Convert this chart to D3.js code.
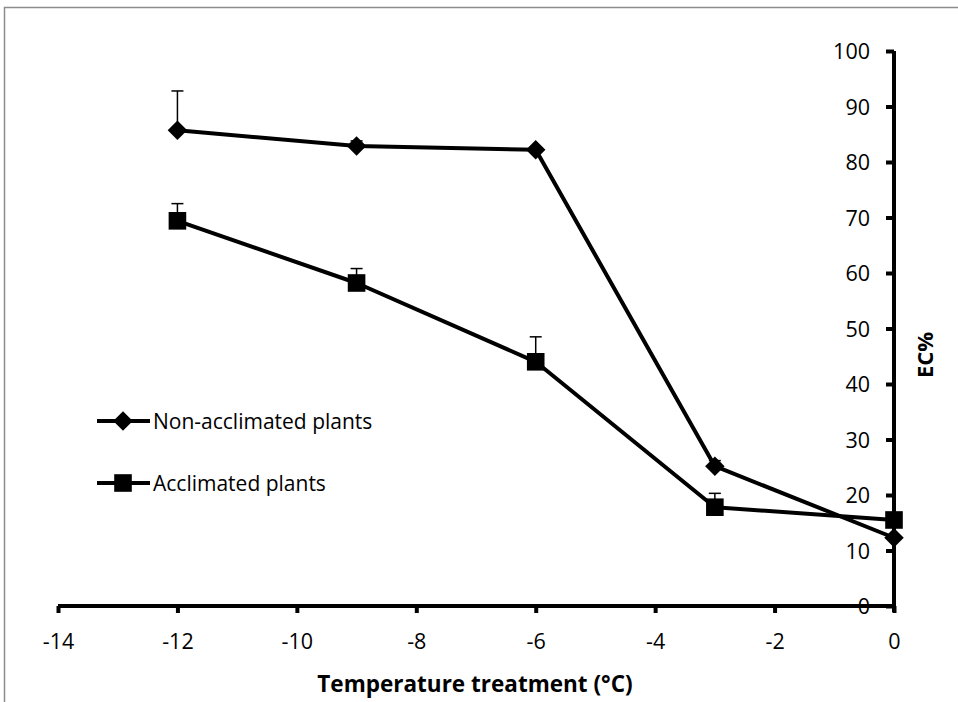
<!DOCTYPE html>
<html>
<head>
<meta charset="utf-8">
<script src="https://cdn.jsdelivr.net/npm/d3@7"></script>
<style>
  body { margin: 0; background: #fff; }
  svg { display: block; font-family: "Open Sans", Lato, sans-serif; }
</style>
</head>
<body>
<div id="chart-area"></div>
<script>
// Data
const temps = [-12, -9, -6, -3, 0]
const nonAcclimated = [85.7, 82.9, 82.2, 25.2, 12.3]
const nonAcclimatedErr = [7.1, 0.9, 0.4, 1.0, 0.3]
const acclimated = [69.4, 58.2, 44.0, 17.8, 15.5]
const acclimatedErr = [3.1, 2.6, 4.5, 2.5, 0.3]
const xTicks = [-14, -12, -10, -8, -6, -4, -2, 0]
const yTicks = [0, 10, 20, 30, 40, 50, 60, 70, 80, 90, 100]

const W = 958, H = 702
const MARGINS = { TOP: 51, LEFT: 58 }
const PLOT_W = 894 - 58
const PLOT_H = 606 - 51

const svg = d3.select("#chart-area").append("svg")
	.attr("width", W)
	.attr("height", H)

// chart frame (runs off the right and bottom edge)
svg.append("path")
	.attr("d", `M4.5,${H} V7.5 H${W}`)
	.attr("fill", "none")
	.attr("stroke", "#8c8c8c")
	.attr("stroke-width", 1.5)

const g = svg.append("g")
	.attr("transform", `translate(${MARGINS.LEFT}, ${MARGINS.TOP})`)

const x = d3.scaleLinear().domain([-14, 0]).range([0, PLOT_W])
const y = d3.scaleLinear().domain([0, 100]).range([PLOT_H, 0])

// y axis on the right side, at x = 0
const yAxis = g.append("g")
	.attr("transform", `translate(${x(0)}, 0)`)
	.call(d3.axisLeft(y).tickValues(yTicks).tickSize(8).tickPadding(16).tickSizeOuter(0))
yAxis.select(".domain").attr("stroke-width", 4)
	.attr("d", `M0,${y(100)}V${y(0) + 6}`)
yAxis.selectAll(".tick line").attr("stroke-width", 4)
yAxis.selectAll(".tick text")
	.attr("font-family", "'Open Sans', sans-serif")
	.attr("font-size", "21.5px")
	.attr("fill", "#000")
	.attr("dy", "0.36em")

// x axis at y = 0
const xAxis = g.append("g")
	.attr("transform", `translate(0, ${y(0)})`)
	.call(d3.axisBottom(x).tickValues(xTicks).tickFormat(d => String(d))
		.tickSize(7).tickPadding(21).tickSizeOuter(0))
xAxis.select(".domain").attr("stroke-width", 4)
	.attr("d", `M0,0H${PLOT_W}`)
xAxis.selectAll(".tick line").attr("stroke-width", 4)
xAxis.selectAll(".tick text")
	.attr("font-family", "'Open Sans', sans-serif")
	.attr("font-size", "21.5px")
	.attr("fill", "#000")

// axis titles
svg.append("text")
	.attr("x", 475)
	.attr("y", 692)
	.attr("text-anchor", "middle")
	.attr("font-size", "22.5px")
	.attr("font-weight", "bold")
	.text("Temperature treatment (°C)")

svg.append("text")
	.attr("transform", "translate(933, 355) rotate(-90)")
	.attr("text-anchor", "middle")
	.attr("font-size", "22px")
	.attr("font-weight", "bold")
	.text("EC%")

const series = [
	{ name: "Non-acclimated plants", values: nonAcclimated, err: nonAcclimatedErr, marker: d3.symbolSquare, size: 190, rot: 45 },
	{ name: "Acclimated plants", values: acclimated, err: acclimatedErr, marker: d3.symbolSquare, size: 310, rot: 0 }
]

const line = d3.line()
	.x(d => x(d.t))
	.y(d => y(d.v))

series.forEach(s => {
	const pts = temps.map((t, i) => ({ t: t, v: s.values[i], e: s.err[i] }))

	// error bars (upper only)
	const eb = g.append("g").attr("stroke", "#000").attr("stroke-width", 1.5)
	eb.selectAll("line.stem").data(pts).enter().append("line")
		.attr("x1", d => x(d.t)).attr("x2", d => x(d.t))
		.attr("y1", d => y(d.v)).attr("y2", d => y(d.v + d.e))
	eb.selectAll("line.cap").data(pts).enter().append("line")
		.attr("x1", d => x(d.t) - 6).attr("x2", d => x(d.t) + 6)
		.attr("y1", d => y(d.v + d.e)).attr("y2", d => y(d.v + d.e))

	g.append("path")
		.datum(pts)
		.attr("fill", "none")
		.attr("stroke", "#000")
		.attr("stroke-width", 4)
		.attr("stroke-linejoin", "round")
		.attr("d", line)

	g.selectAll(null).data(pts).enter().append("path")
		.attr("transform", d => `translate(${x(d.t)}, ${y(d.v)}) rotate(${s.rot})`)
		.attr("d", d3.symbol().type(s.marker).size(s.size))
		.attr("fill", "#000")
})

// legend
const legend = svg.append("g")
	.attr("transform", "translate(97, 421)")

series.forEach((s, i) => {
	const row = legend.append("g")
		.attr("transform", `translate(0, ${i * 62})`)
	row.append("line")
		.attr("x1", 0).attr("x2", 53)
		.attr("stroke", "#000")
		.attr("stroke-width", 4)
	row.append("path")
		.attr("transform", `translate(26, 0) rotate(${s.rot})`)
		.attr("d", d3.symbol().type(s.marker).size(s.size))
		.attr("fill", "#000")
	row.append("text")
		.attr("x", 56)
		.attr("dy", "0.36em")
		.attr("font-size", "21px")
		.text(s.name)
})
</script>
</body>
</html>
